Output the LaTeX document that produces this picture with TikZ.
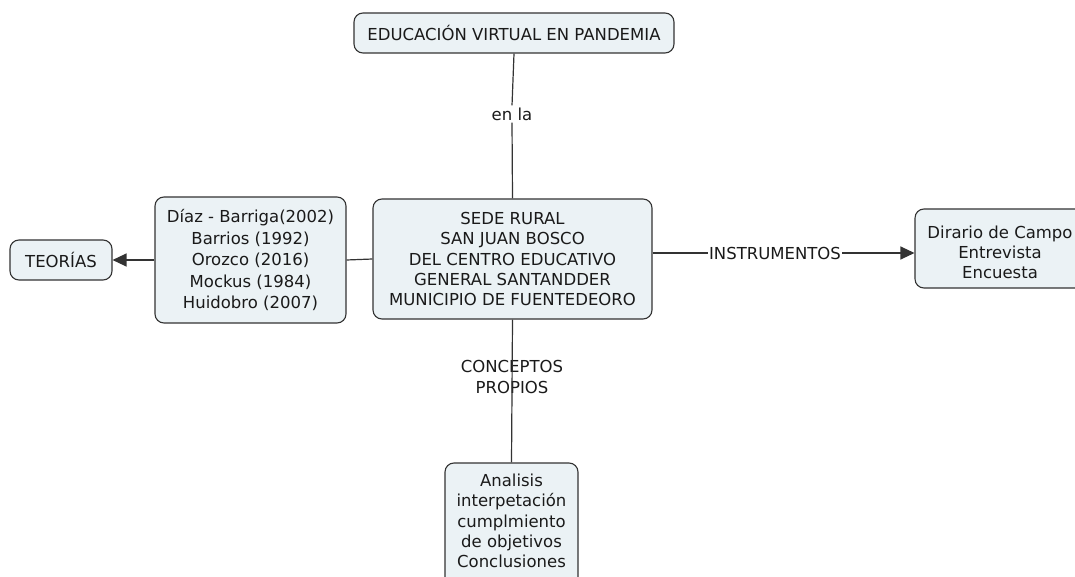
\documentclass[tikz,border=0pt]{standalone}
\usepackage{fontspec}
\setmainfont{DejaVu Sans}
\usetikzlibrary{arrows.meta}
\definecolor{boxfill}{HTML}{EBF2F5}
\definecolor{boxdraw}{HTML}{333333}
\definecolor{txt}{HTML}{1A1A1A}
\begin{document}
\begin{tikzpicture}[x=1pt,y=-1pt,
  concept/.style={draw=boxdraw, fill=boxfill, rounded corners=9pt, line width=1.1pt,
    align=center, text=txt, font=\fontsize{16.5}{20.3}\selectfont, inner sep=0pt},
  link/.style={draw=boxdraw, line width=1.2pt},
  linklabel/.style={text=txt, font=\fontsize{16.5}{21}\selectfont, align=center, inner sep=2pt},
  tip/.style={-{Triangle[length=14pt,width=13pt]}}]
\useasboundingbox (0,0) rectangle (1075,577);
\clip (0,0) rectangle (1075,577);
\node[concept, minimum width=320pt, minimum height=40pt] (edu) at (514,33) {EDUCACIÓN VIRTUAL EN PANDEMIA};
\node[concept, minimum width=279pt, minimum height=120pt] (sede) at (512.5,259)
  {SEDE RURAL\\SAN JUAN BOSCO\\DEL CENTRO EDUCATIVO\\GENERAL SANTANDDER\\MUNICIPIO DE FUENTEDEORO};
\node[concept, minimum width=191pt, minimum height=126pt, font=\fontsize{16.5}{21.5}\selectfont] (aut) at (250.5,260)
  {Díaz - Barriga(2002)\\Barrios (1992)\\Orozco (2016)\\Mockus (1984)\\Huidobro (2007)};
\node[concept, minimum width=102pt, minimum height=40pt] (teo) at (61,260) {TEORÍAS};
\node[concept, minimum width=170pt, minimum height=79pt] (ins) at (1000,248.5)
  {\rule{0pt}{20.5pt}Dirario de Campo\\Entrevista\\Encuesta};
\node[concept, minimum width=133pt, minimum height=140pt, text depth=24pt] (ana) at (511.5,533)
  {Analisis\\interpetación\\cumplmiento\\de objetivos\\Conclusiones};
\node[linklabel, fill=white] (enla) at (512,114) {en la};
\node[linklabel, fill=white, inner xsep=1pt] (instr) at (775,253) {INSTRUMENTOS};
\node[linklabel] (conc) at (512,377) {CONCEPTOS\\PROPIOS};
\draw[link] (edu.south) -- (enla.north);
\draw[link] (enla.south) -- (sede.north);
\draw[link] (sede.west) -- (aut.east);
\draw[link, tip] (aut.west) -- (teo.east);
\draw[link] (sede.east |- instr.west) -- (instr.west);
\draw[link, tip] (instr.east) -- (ins.west |- instr.east);
\draw[link] (sede.south) -- (ana.north);
\end{tikzpicture}
\end{document}
